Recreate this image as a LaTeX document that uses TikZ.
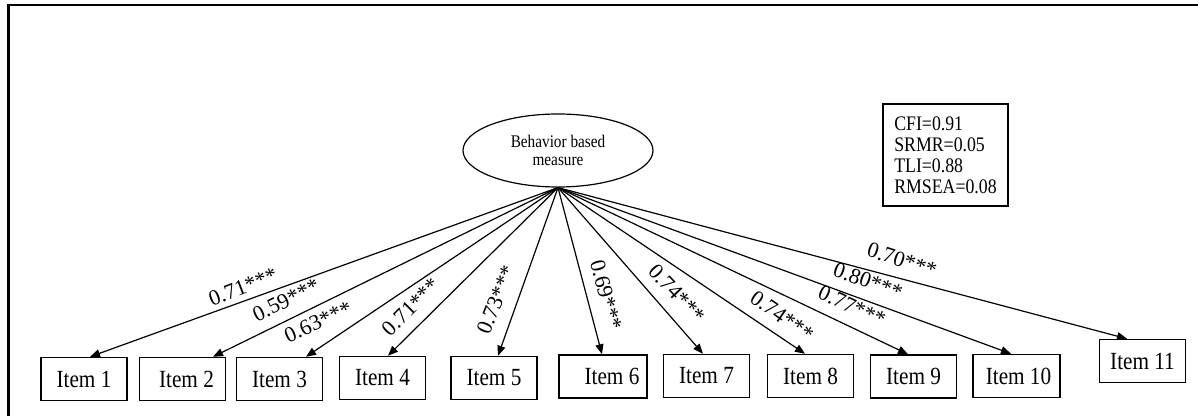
\documentclass[tikz,border=0pt]{standalone}
\usepackage{fontspec}
\setmainfont{Liberation Serif}
\newfontfamily\narrowserif{Liberation Serif}[FakeStretch=0.86]
\usetikzlibrary{arrows.meta,shapes.geometric,calc}

\tikzset{
  itembox/.style={draw, line width=1.1pt, minimum width=64.5pt, minimum height=32.25pt,
    inner sep=0pt, font=\narrowserif\fontsize{18.5}{20}\selectfont},
  latent/.style={draw, ellipse, line width=0.9pt, minimum width=142.5pt, minimum height=54.75pt,
    inner sep=0pt, align=center, font=\narrowserif\fontsize{13.3}{13.5}\selectfont},
  fitbox/.style={draw, line width=1.1pt, minimum width=93.75pt, minimum height=76.5pt,
    inner sep=0pt, align=left, font=\narrowserif\fontsize{15.5}{15.75}\selectfont},
  loading/.style={line width=0.9pt, -{Triangle[length=7.5pt,width=6pt]}},
  coef/.style={inner sep=0pt, font=\fontsize{16.5}{17}\selectfont},
  frameline/.style={line width=2pt}
}

\begin{document}
\begin{tikzpicture}[x=0.75pt, y=-0.75pt]
\useasboundingbox (0,0) rectangle (1198,416);

% outer frame (top and left edges)
\draw[frameline] (8.7,416) -- (8.7,5) -- (1198,5);

% latent factor
\node[latent] (f) at (558,150.5) {Behavior based\\measure};

% fit indices
\node[fitbox] (fit) at (945.5,155) {CFI=0.91\\SRMR=0.05\\TLI=0.88\\RMSEA=0.08};

% indicator items
\node[itembox] (i1)  at (84,379)     {Item 1};
\node[itembox] (i2)  at (182.5,379)  {\hspace*{6pt}Item 2};
\node[itembox] (i3)  at (279.5,379)  {Item 3};
\node[itembox] (i4)  at (382.5,378)  {Item 4};
\node[itembox] (i5)  at (494,378)    {Item 5};
\node[itembox, minimum width=66pt] (i6) at (603,376.5) {\hspace*{13.5pt}Item 6};
\node[itembox] (i7)  at (706.5,376)  {Item 7};
\node[itembox] (i8)  at (810.5,376)  {Item 8};
\node[itembox] (i9)  at (913.5,376.5){Item 9};
\node[itembox, minimum width=65.25pt] (i10) at (1016.5,376) {\hspace*{3pt}Item 10};
\node[itembox] (i11) at (1142.5,361) {Item 11};

% factor loadings
\draw[loading] (f.south) -- ($(i1.north)+(6,0)$);
\draw[loading] (f.south) -- ($(i2.north)+(30.5,0)$);
\draw[loading] (f.south) -- ($(i3.north)+(26.5,0)$);
\draw[loading] (f.south) -- ($(i4.north)+(5.5,0)$);
\draw[loading] (f.south) -- ($(i5.north)+(4,0)$);
\draw[loading] (f.south) -- ($(i6.north)+(-1,0)$);
\draw[loading] (f.south) -- ($(i7.north)+(-3.5,0)$);
\draw[loading] (f.south) -- ($(i8.north)+(-5.5,0)$);
\draw[loading] (f.south) -- ($(i9.north)+(-5.5,0)$);
\draw[loading] (f.south) -- ($(i10.north)+(-5.5,0)$);
\draw[loading] (f.south) -- ($(i11.north)+(-15.5,0)$);

% standardized coefficients
\node[coef, rotate=21]  (c1)  at (243,287) {0.71***};
\node[coef, rotate=26]  (c2)  at (286,300) {0.59***};
\node[coef, rotate=24]  (c3)  at (318,322) {0.63***};
\node[coef, rotate=45]  (c4)  at (411,307) {0.71***};
\node[coef, rotate=68]  (c5)  at (496,300) {0.73***};
\node[coef, rotate=-75] (c6)  at (606,295) {0.69***};
\node[coef, rotate=-47] (c7)  at (677,294) {0.74***};
\node[coef, rotate=-35] (c8)  at (782,316) {0.74***};
\node[coef, rotate=-25] (c9)  at (852,306) {0.77***};
\node[coef, rotate=-20] (c10) at (868,281) {0.80***};
\node[coef, rotate=-18] (c11) at (902,260) {0.70***};
\end{tikzpicture}
\end{document}
